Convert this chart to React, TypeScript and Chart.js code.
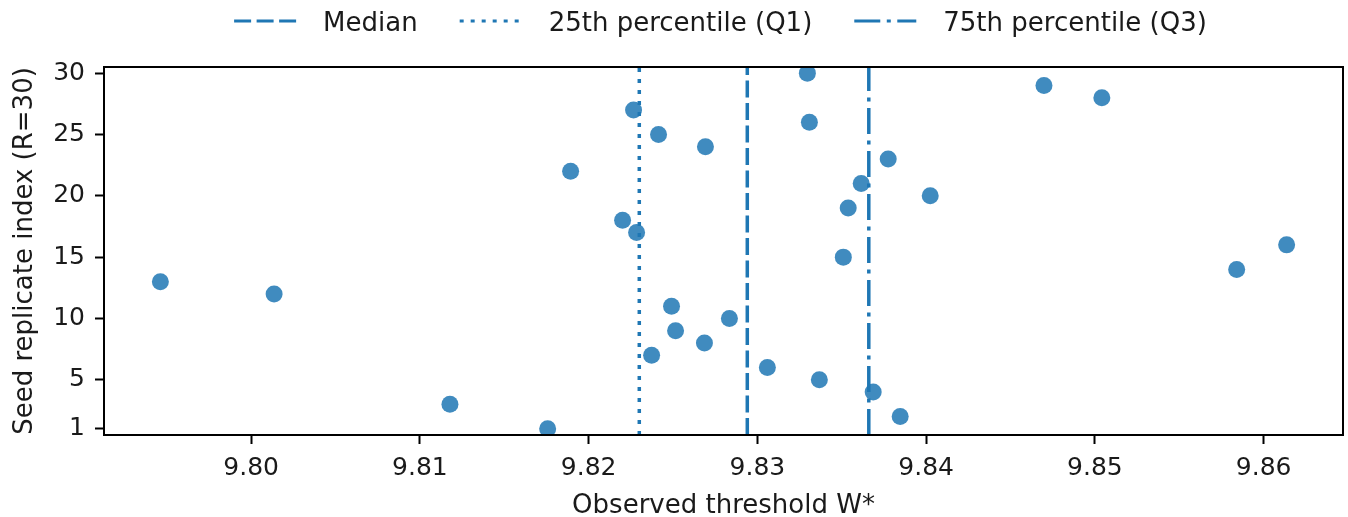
import React, { useEffect, useRef } from "react";
import { Chart, registerables } from "chart.js";

Chart.register(...registerables);

// ---- Data ----
const replicateIndex = [
  1, 2, 3, 4, 5, 6, 7, 8, 9, 10,
  11, 12, 13, 14, 15, 16, 17, 18, 19, 20,
  21, 22, 23, 24, 25, 26, 27, 28, 29, 30,
];
const thresholds = [
  9.81757, 9.83846, 9.81178, 9.83686, 9.83367, 9.83059, 9.82373, 9.82686, 9.82515, 9.82834,
  9.82491, 9.80136, 9.79462, 9.8584, 9.83509, 9.86136, 9.82284, 9.82201, 9.83538, 9.84024,
  9.83615, 9.81893, 9.83775, 9.82692, 9.82414, 9.83308, 9.82266, 9.85041, 9.84698, 9.83296,
];
const medianValue = 9.8294;
const q1Value = 9.8230;
const q3Value = 9.8366;

const xTickValues = [9.8, 9.81, 9.82, 9.83, 9.84, 9.85, 9.86];
const yTickValues = [1, 5, 10, 15, 20, 25, 30];
const xRange = [9.79128, 9.8647];
const yRange = [0.5, 30.5];

const refLabels = ["Median", "25th percentile (Q1)", "75th percentile (Q3)"];
const refValues = [medianValue, q1Value, q3Value];
const refDashes = [
  [17, 5.5],
  [4, 7],
  [26, 6.5, 4, 6.5],
];

const xTitle = "Observed threshold W*";
const yTitle = "Seed replicate index (R=30)";

const BLUE = "#1f77b4";
const TEXT = "#1a1a1a";
const FONT = "'DejaVu Sans', 'Liberation Sans', sans-serif";

const framePlugin = {
  id: "frame",
  afterDatasetsDraw(chart: any) {
    const { ctx, chartArea } = chart;
    ctx.save();
    ctx.strokeStyle = "#000";
    ctx.lineWidth = 2;
    ctx.strokeRect(chartArea.left, chartArea.top, chartArea.right - chartArea.left, chartArea.bottom - chartArea.top);
    ctx.restore();
  },
};

const legendPlugin = {
  id: "customLegend",
  afterDraw(chart: any) {
    const { ctx, chartArea } = chart;
    ctx.save();
    ctx.font = `26px ${FONT}`;
    const handle = 62;
    const textPad = 27;
    const colGap = 42;
    const widths = refLabels.map((l) => ctx.measureText(l).width);
    const total = widths.reduce((a, w) => a + handle + textPad + w, 0) + colGap * (refLabels.length - 1);
    let x = (chartArea.left + chartArea.right) / 2 - 3 - total / 2;
    const lineY = 21;
    const textY = 24;
    refLabels.forEach((label, i) => {
      ctx.beginPath();
      ctx.setLineDash(refDashes[i]);
      ctx.strokeStyle = BLUE;
      ctx.lineWidth = 3.2;
      ctx.lineCap = "butt";
      ctx.moveTo(x, lineY);
      ctx.lineTo(x + handle, lineY);
      ctx.stroke();
      ctx.setLineDash([]);
      ctx.fillStyle = TEXT;
      ctx.textAlign = "left";
      ctx.textBaseline = "middle";
      ctx.fillText(label, x + handle + textPad, textY);
      x += handle + textPad + widths[i] + colGap;
    });
    ctx.restore();
  },
};

export default function App() {
  const canvasRef = useRef<HTMLCanvasElement | null>(null);

  useEffect(() => {
    if (!canvasRef.current) return;
    Chart.defaults.font.family = FONT;

    const scatterData = thresholds.map((x, i) => ({ x, y: replicateIndex[i] }));
    const lineSets = refValues.map((v, i) => ({
      type: "line" as const,
      label: refLabels[i],
      data: [
        { x: v, y: yRange[0] },
        { x: v, y: yRange[1] },
      ],
      borderColor: BLUE,
      borderWidth: 3.5,
      borderDash: refDashes[i],
      borderCapStyle: "butt" as const,
      pointRadius: 0,
      fill: false,
      order: 0,
    }));

    const chart = new Chart(canvasRef.current, {
      type: "scatter",
      data: {
        datasets: [
          ...lineSets,
          {
            type: "scatter" as const,
            label: "Replicates",
            data: scatterData,
            backgroundColor: "rgba(31,119,180,0.85)",
            borderWidth: 0,
            pointRadius: 8.5,
            order: 1,
          },
        ] as any,
      },
      options: {
        animation: false,
        responsive: true,
        maintainAspectRatio: false,
        layout: { autoPadding: false, padding: { top: 67, right: 5, bottom: 0, left: 0 } },
        plugins: {
          legend: { display: false },
          tooltip: { enabled: false },
        },
        scales: {
          x: {
            type: "linear",
            min: xRange[0],
            max: xRange[1],
            afterBuildTicks: (s: any) => {
              s.ticks = xTickValues.map((v) => ({ value: v }));
            },
            afterFit: (s: any) => {
              s.height = 82;
              s.paddingLeft = 0;
              s.paddingRight = 0;
            },
            ticks: {
              callback: (v: any) => Number(v).toFixed(2),
              font: { size: 25, family: FONT },
              color: TEXT,
              padding: 9,
              autoSkip: false,
              maxRotation: 0,
            },
            grid: {
              drawOnChartArea: false,
              drawTicks: true,
              tickLength: 9,
              tickWidth: 2,
              tickColor: "#000",
            },
            border: { display: false },
            title: {
              display: true,
              text: xTitle,
              color: TEXT,
              font: { size: 26, family: FONT, lineHeight: 0.8 },
              padding: 0,
            },
          },
          y: {
            type: "linear",
            min: yRange[0],
            max: yRange[1],
            afterBuildTicks: (s: any) => {
              s.ticks = yTickValues.map((v) => ({ value: v }));
            },
            afterFit: (s: any) => {
              s.width = 104;
              s.paddingTop = 0;
              s.paddingBottom = 0;
            },
            ticks: {
              font: { size: 25, family: FONT },
              color: TEXT,
              padding: 10,
              autoSkip: false,
            },
            grid: {
              drawOnChartArea: false,
              drawTicks: true,
              tickLength: 9,
              tickWidth: 2,
              tickColor: "#000",
            },
            border: { display: false },
            title: {
              display: true,
              text: yTitle,
              color: TEXT,
              font: { size: 26, family: FONT, lineHeight: 1.2 },
              padding: { top: 10, bottom: 0 },
            },
          },
        },
      },
      plugins: [framePlugin, legendPlugin],
    });

    return () => chart.destroy();
  }, []);

  return (
    <div style={{ position: "fixed", left: 0, top: 0, width: 1348, height: 517, background: "#fff" }}>
      <canvas ref={canvasRef} />
    </div>
  );
}
